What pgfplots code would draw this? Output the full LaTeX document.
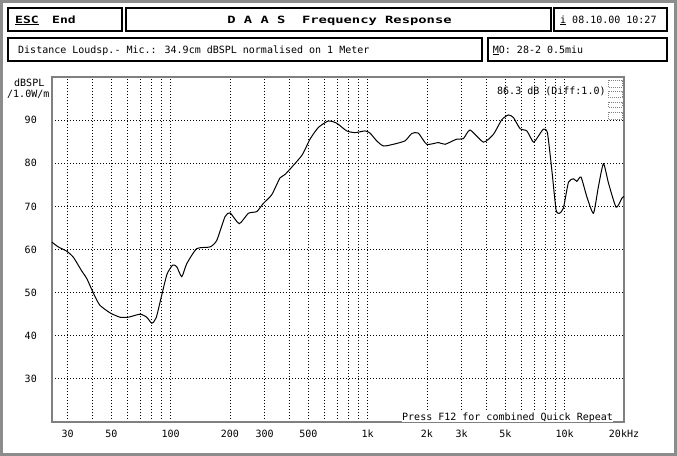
\documentclass[border=0pt]{standalone}
\usepackage{fontspec}
\setmainfont{DejaVu Sans Mono}
\usepackage{pgfplots}
\pgfplotsset{compat=1.18}
\newcommand{\px}{\fontsize{10bp}{12bp}\selectfont}
\newcommand{\wide}[2]{\scalebox{#1}[1]{\bfseries #2}}
\tikzset{gdot/.style={black, line width=0.8bp, dash pattern=on 1bp off 2bp}}
\begin{document}
\begin{tikzpicture}[font=\px]
\useasboundingbox (0,0) rectangle (677bp,-456bp);
\fill[white] (0,0) rectangle (677bp,-456bp);
\draw[gray!90, line width=3bp] (1.5bp,-1.5bp) rectangle (675bp,-454bp);

% header boxes
\begin{scope}[line width=2bp]
\draw (8.3bp,-7.7bp) rectangle (122bp,-31bp);
\draw (126bp,-7.7bp) rectangle (550.7bp,-31bp);
\draw (554.3bp,-7.7bp) rectangle (667.3bp,-31bp);
\draw (8.3bp,-37.7bp) rectangle (482.3bp,-60.7bp);
\draw (487.7bp,-37.7bp) rectangle (667.3bp,-60.7bp);
\end{scope}
\node[anchor=base west, inner sep=0] at (15bp,-23bp) {\wide{1.3}{\underline{ESC}}};
\node[anchor=base west, inner sep=0] at (52bp,-23bp) {\wide{1.3}{End}};
\node[anchor=base, inner sep=0] at (339.5bp,-23bp) {\wide{1.38}{D A A S\ \ Frequency Response}};
\node[anchor=base west, inner sep=0] at (560bp,-23bp) {\underline{i} 08.10.00 10:27};
\node[anchor=base west, inner sep=0] at (18bp,-53bp) {Distance Loudsp.- Mic.: 34.9cm dBSPL normalised on 1 Meter};
\node[anchor=base west, inner sep=0] at (492.7bp,-53bp) {\underline{M}O: 28-2 0.5miu};

\begin{axis}[
at={(52bp,-422bp)}, anchor=south west,
scale only axis, width=572bp, height=345bp,
xmode=log, xmin=25, xmax=20000, ymin=20, ymax=100,
xtick={30,50,100,200,300,500,1000,2000,3000,5000,10000,20000},
xticklabels={30,50,100,200,300,500,1k,2k,3k,5k,10k,20kHz},
minor xtick={40,60,70,80,90,400,600,700,800,900,4000,6000,7000,8000,9000},
ytick={20,30,40,50,60,70,80,90},
yticklabels={,30,40,50,60,70,80,90},
grid=both,
major grid style={gdot},
minor grid style={gdot},
tick style={draw=none},
axis line style={gray, line width=1.6bp},
ticklabel style={font=\px},
/pgf/number format/assume math mode=true,
yticklabel style={xshift=-11.7bp},
xticklabel style={yshift=-4.5bp},
clip=false,
]
\addplot[black, line width=1bp, smooth, tension=0.35] coordinates {
(25,61.7) (26.9,60.6) (29.7,59.6) (32.1,58.2) (35.3,55.1) (37.6,53.2)
(40.8,49.6) (43.7,47.1) (49.3,45.3) (55.3,44.3) (61,44.3) (70,45.0)
(75.6,44.3) (80.3,42.9) (84.5,44.2) (90.3,49.6) (95.9,54.3) (102.5,56.4)
(107.4,56.0) (113.9,53.7) (120.7,56.7) (135.7,60.2) (158.5,60.6) (171.4,62.1)
(188.8,67.6) (200.3,68.5) (223,66.0) (248,68.4) (273.6,68.8) (295.6,70.7)
(326,72.7) (359,76.6) (381,77.4) (463,81.8) (510,85.6) (562,88.3)
(632,89.8) (696,89.3) (783,87.5) (863,87.1) (970,87.5) (1028,87.0)
(1111,85.2) (1202,84.0) (1350,84.4) (1548,85.2) (1674,86.9) (1808,87.0)
(1995,84.4) (2285,84.8) (2472,84.4) (2832,85.6) (3060,85.7) (3309,87.7)
(3871,84.9) (4345,86.7) (4794,90.1) (5180,91.2) (5491,90.6) (5940,88.0)
(6425,87.5) (6935,84.9) (7355,86.3) (7795,87.9) (8170,87.1) (8600,78.5)
(9040,69.2) (9400,68.4) (9850,69.6) (10450,75.6) (11080,76.4) (11520,75.8)
(12100,76.8) (12940,72.3) (13990,68.4) (14830,74.6) (15730,79.9) (16680,75.4)
(18240,69.8) (19500,71.9) (20000,72.3)
};
\end{axis}

\node[anchor=base west, inner sep=0] at (14bp,-86bp) {dBSPL};
\node[anchor=base west, inner sep=0] at (7bp,-97bp) {/1.0W/m};
\node[anchor=base west, inner sep=0] at (497bp,-94bp) {86.3 dB (Diff:1.0)};
\node[anchor=base west, inner sep=0, fill=white] at (402bp,-420bp) {Press F12 for combined Quick Repeat};
\begin{scope}[gray, line width=0.6bp, dash pattern=on 0.8bp off 1.2bp]
\draw (608bp,-80bp) rectangle (622bp,-87bp);
\draw (608bp,-91bp) rectangle (622bp,-97bp);
\draw (608bp,-102bp) rectangle (622bp,-107bp);
\draw (608bp,-112bp) rectangle (622bp,-119bp);
\end{scope}
\end{tikzpicture}
\end{document}
